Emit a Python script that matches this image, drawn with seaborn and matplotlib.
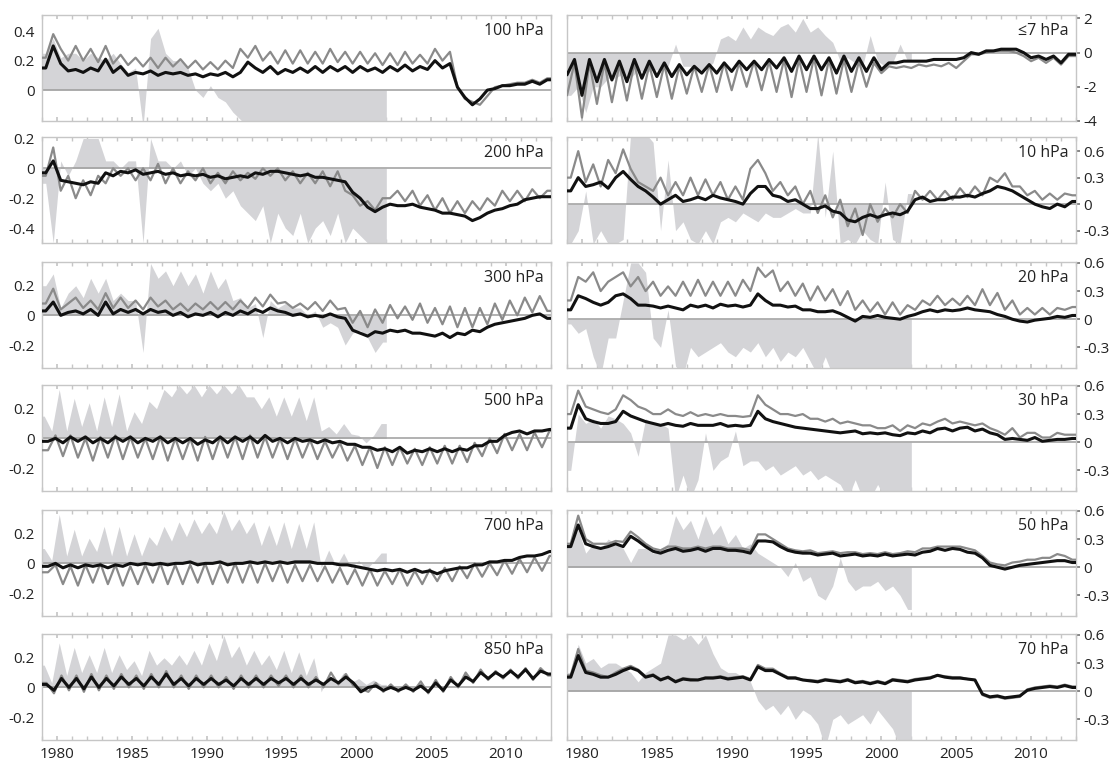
import numpy as np
import matplotlib
matplotlib.use("Agg")
import matplotlib.pyplot as plt
import seaborn as sns

# ---------------- data (values in hundredths, semi-annual samples 1979-2012) ----------------
p100_black = [15,30, 18,13, 14,12, 15,13, 21,12, 16,10, 12,11, 13,10, 12,11, 12,10,
              11,9, 11,10, 12,9, 12,19, 15,12, 16,11, 14,12, 15,12, 16,12, 16,13,
              16,12, 16,13, 15,12, 16,13, 17,13, 16,14, 20,15, 18,2, -5,-10, -6,0,
              1,3, 3,4, 4,6, 4,7]
p100_gray = [22,38, 28,20, 30,20, 28,19, 30,18, 24,17, 22,16, 22,15, 22,16, 21,15,
             20,14, 19,14, 20,15, 28,22, 30,20, 26,18, 27,18, 27,18, 26,18, 28,19,
             26,18, 26,18, 25,17, 25,17, 26,18, 24,18, 28,20, 26,2, -6,-8, -10,-4,
             2,3, 4,5, 5,7, 5,8]
p100_fill = [25,35, 22,25, 25,20, 25,22, 20,25, 18,12, 15,-25, 35,42, 25,20, 20,15,
             0,-5, 3,-5, -8,-15, -20,-25, -30,-25, -30,-30, -28,-30, -30,-26, -30,-30,
             -27,-30, -30,-30, -30,-28, -30,-30]

p200_black = [-3,5, -8,-9, -10,-11, -9,-10, -3,-5, -2,-3, -1,-4, -3,-2, -4,-3, -5,-4,
              -5,-4, -6,-5, -7,-6, -5,-6, -3,-4, -2,-2, -3,-4, -5,-4, -6,-6, -7,-8,
              -9,-16, -20,-26, -29,-26, -24,-25, -25,-24, -26,-27, -28,-30, -30,-31,
              -32,-35, -33,-30, -28,-27, -25,-24, -21,-20, -19,-19]
p200_gray = [-5,14, -15,-5, -20,-8, -18,-5, -10,0, -5,0, -8,0, -8,3, -10,0, -10,-2,
             -8,0, -10,-3, -10,-2, -8,-3, -7,0, -5,0, -8,-2, -10,-3, -10,-2, -12,-2,
             -15,-18, -25,-22, -28,-20, -20,-15, -22,-15, -25,-18, -28,-20, -30,-22,
             -30,-22, -28,-20, -25,-15, -22,-15, -22,-14, -20,-15]
p200_fill = [-10,-50, 5,-5, 5,20, 20,20, 5,5, 0,5, 5,-50, 20,5, 5,0, 5,-5,
             0,-10, -15,-10, -20,-15, -25,-30, -35,-25, -50,-30, -40,-45, -30,-50,
             -40,-35, -45,-30, -50,-40, -45,-50, -55,-55]

p300_black = [3,9, 0,2, 3,1, 4,0, 9,1, 4,2, 4,1, 4,2, 3,0, 2,-1, 1,0, 2,-1, 2,0, 3,1,
              4,2, 5,3, 2,0, 1,-1, 0,-1, 1,-1, -2,-10, -12,-14, -11,-12, -10,-11,
              -10,-12, -12,-13, -14,-12, -15,-12, -13,-10, -11,-8, -6,-5, -4,-3, -2,0, 1,-2]
p300_gray = [8,18, 4,8, 12,5, 10,4, 15,5, 12,5, 10,4, 12,6, 10,4, 8,3, 8,4, 9,4, 9,4,
             10,5, 12,6, 14,8, 9,5, 8,4, 9,3, 10,4, 5,-5, 3,-8, 4,-5, 7,-2, 6,-3, 8,-5,
             5,-6, 6,-8, 5,-8, 5,-6, 8,-3, 10,0, 12,2, 13,3]
p300_fill = [20,28, 5,15, 20,12, 25,15, 25,10, 15,10, 10,-25, 35,25, 30,20, 30,20,
             28,15, 30,18, 25,10, 12,5, 8,-15, 10,5, 8,5, 5,0, 3,-8, -5,-8, -20,-12,
             -10,-15, -25,-18]

p500_black = [-2,0, -3,1, -2,1, -3,0, -3,1, -2,1, -3,0, -2,1, -3,0, -3,0, -4,-1, -3,1,
              -3,1, -2,1, -3,2, -2,0, -3,0, -2,-1, -3,-1, -3,-2, -4,-4, -6,-6, -8,-7,
              -9,-6, -10,-8, -9,-7, -9,-7, -9,-7, -8,-5, -5,-2, -2,2, 4,5, 3,5, 5,6]
p500_gray = [-8,2, -12,2, -13,0, -15,1, -13,2, -14,1, -13,0, -14,1, -15,0, -14,0,
             -15,1, -14,1, -13,1, -14,2, -13,1, -13,0, -14,0, -13,-1, -14,-2, -13,-3,
             -15,-5, -18,-6, -20,-6, -18,-6, -17,-7, -18,-6, -17,-5, -17,-5, -16,-3,
             -12,0, -10,3, -8,3, -8,4, -6,5]
p500_fill = [15,5, 33,5, 27,8, 24,5, 28,8, 30,5, 18,10, 25,20, 33,28, 36,30, 36,28,
             36,30, 36,30, 36,28, 28,20, 28,15, 28,15, 28,12, 28,5, 8,3, 10,3, 2,-3, 2,10]

p700_black = [-2,0, -3,-1, -3,-1, -2,-1, -3,-1, -2,0, -1,0, -1,0, -1,0, 0,1, -1,0,
              0,1, -1,0, 0,1, 0,1, 0,1, 0,1, 1,1, 0,0, 0,-1, -1,-2, -3,-4, -5,-4,
              -5,-4, -6,-4, -6,-5, -7,-5, -4,-3, -3,-1, -1,1, 1,2, 2,4, 5,5, 6,8]
p700_gray = [-6,-1, -14,-2, -15,-1, -13,0, -14,-1, -15,-2, -14,-1, -13,0, -14,-1,
             -14,-1, -13,0, -14,-1, -13,0, -13,0, -13,0, -12,0, -13,-1, -12,-1, -12,-2,
             -13,-3, -14,-4, -15,-4, -15,-5, -14,-4, -15,-5, -14,-4, -12,-3, -12,-2,
             -10,0, -9,0, -8,2, -7,3, -6,4, -5,5]
p700_fill = [10,2, 33,5, 23,5, 17,8, 25,5, 25,5, 20,5, 18,12, 25,15, 28,18, 30,20,
             28,20, 35,22, 30,20, 28,12, 26,12, 28,10, 27,10, 28,-3, 9,-2, 7,-3, 2,-4, 1,7]

p850_black = [2,-2, 6,0, 6,-1, 7,0, 6,1, 7,2, 6,1, 7,2, 9,2, 6,1, 6,2, 6,2, 5,1, 6,2,
              6,2, 6,3, 6,2, 6,2, 5,2, 6,3, 7,3, -3,0, 1,-2, 0,-2, 0,-2, 1,-3, 3,-2,
              5,1, 7,4, 10,6, 10,7, 11,7, 12,6, 11,9]
p850_gray = [3,-4, 8,-2, 8,-3, 9,-2, 8,-1, 9,0, 8,-1, 9,0, 11,0, 8,-1, 8,0, 8,0, 7,-1,
             8,0, 8,0, 8,1, 8,0, 8,0, 7,0, 10,2, 9,1, -1,-3, 3,-3, 2,-3, 2,-3, 4,-4,
             5,-3, 7,0, 10,3, 12,5, 11,6, 12,6, 13,5, 13,8]
p850_fill = [15,3, 30,8, 27,10, 22,10, 27,10, 22,12, 18,8, 25,15, 20,15, 22,15, 25,15,
             30,18, 35,20, 28,15, 25,15, 22,12, 25,10, 24,8, 20,-3, 9,3, 10,3, 6,2, 5,2]

p7_black = [-130,-40, -250,-40, -170,-40, -160,-50, -170,-40, -150,-50, -140,-60,
            -140,-70, -130,-80, -120,-70, -120,-60, -110,-50, -100,-50, -100,-40,
            -90,-30, -110,-20, -100,-20, -100,-30, -120,-20, -110,-30, -110,-30,
            -100,-60, -60,-50, -50,-50, -50,-40, -40,-40, -40,-30, 0,-10, 10,10,
            20,20, 20,0, -30,-20, -40,-20, -60,-10]
p7_gray = [-250,-60, -380,-60, -300,-60, -290,-70, -280,-60, -270,-70, -260,-70,
           -270,-80, -240,-80, -230,-70, -230,-60, -220,-60, -200,-50, -220,-50,
           -230,-40, -260,-40, -230,-30, -250,-40, -240,-40, -230,-50, -200,-60,
           -120,-80, -90,-80, -90,-70, -80,-70, -80,-60, -90,-50, -10,-10, 0,10,
           10,10, 0,-20, -50,-30, -60,-30, -70,-20]
p7_fill = [-250,-200, -350,-200, -200,-150, -150,-120, -150,-100, -120,-100, -100,-80,
           50,-80, -80,-100, -100,-60, 80,100, 70,150, 80,150, 120,100, 150,170,
           120,200, 120,150, 100,60, -50,-30, -60,-80, 100,-50, -80,-60, 50,-50]

p10_black = [15,30, 20,22, 25,18, 30,37, 28,20, 15,8, 0,5, 10,3, 5,8, 5,10, 7,5, 3,0,
             12,20, 20,10, 8,3, 5,0, -5,-5, -2,-8, -10,-18, -20,-15, -12,-15, -12,-10,
             -12,-8, 5,8, 3,5, 5,8, 8,10, 8,12, 15,20, 18,15, 10,5, 0,-3, -5,0, -3,3]
p10_gray = [30,60, 25,45, 20,50, 35,62, 40,25, 20,15, 30,10, 25,10, 30,10, 28,10,
            25,5, 20,5, 40,50, 35,15, 25,10, 20,0, 15,-10, 10,-15, 5,-25, -5,-35,
            0,-20, -5,-15, 0,-10, 15,5, 15,5, 15,5, 18,8, 20,10, 30,25, 35,20, 20,10,
            15,5, 12,5, 12,10]
p10_fill = [-45,-30, 15,-45, -30,-45, -45,-40, 80,80, 80,70, -30,50, -30,-20, -40,-45,
            -30,-45, -20,-15, -20,-10, -15,-20, -10,-15, -15,-10, -5,-10, -10,80,
            -15,60, -45,-40, -45,-30, -40,-45, 25,-40, -45,12]

p20_black = [10,25, 22,18, 15,18, 25,27, 22,15, 15,14, 12,14, 12,10, 15,13, 15,12,
             16,14, 15,13, 15,27, 20,15, 15,13, 14,10, 10,8, 8,9, 6,2, -2,3, 2,4, 2,1,
             0,3, 5,8, 10,8, 10,9, 10,12, 10,9, 8,5, 3,0, -2,-3, -1,0, 1,3, 2,4]
p20_gray = [20,45, 40,50, 30,40, 45,50, 35,45, 30,40, 25,35, 25,40, 25,42, 25,40,
            25,40, 25,42, 30,55, 45,52, 30,40, 25,38, 20,35, 20,32, 15,30, 10,20,
            8,18, 5,18, 5,15, 10,20, 15,25, 15,22, 15,25, 15,32, 15,28, 10,20, 5,12,
            5,12, 5,12, 10,13]
p20_fill = [-5,-15, -10,-40, -60,-20, -20,20, 60,60, 50,-20, -30,10, -50,-60, -30,-40,
            -35,-30, -25,-35, -40,-30, -35,-25, -40,-30, -45,-35, -40,-30, -45,-60,
            -40,-60, -60,-60, -60,-60, -60,-60, -60,-60, -60,-60]

p30_black = [15,40, 25,22, 20,20, 22,33, 28,25, 22,20, 18,20, 18,17, 20,18, 18,18,
             20,17, 18,17, 18,33, 25,22, 20,18, 16,15, 14,13, 12,11, 10,11, 12,9,
             10,9, 10,8, 7,10, 9,12, 10,14, 15,12, 15,16, 12,14, 10,8, 3,4, 3,2, 5,1,
             2,3, 3,4]
p30_gray = [30,55, 38,35, 32,30, 35,50, 45,38, 35,30, 30,35, 30,28, 32,28, 30,28,
            30,28, 28,27, 28,50, 40,35, 30,30, 28,30, 25,25, 22,25, 20,22, 20,18,
            18,15, 15,18, 12,18, 15,20, 18,22, 25,20, 22,20, 18,20, 15,12, 8,15,
            5,10, 10,5, 5,10, 8,8]
p30_fill = [-30,30, 20,25, 15,28, 25,20, 10,-15, 25,20, 20,15, -60,-35, -60,-40,
            10,-30, -20,-15, 12,-25, -20,-20, -30,-25, -35,-30, -25,-35, -30,-40,
            -35,-40, -45,-60, -40,-60, -60,-45, -60,-60, -60,-60]

p50_black = [22,45, 25,22, 20,22, 25,22, 33,28, 22,17, 15,18, 20,17, 18,20, 17,20,
             20,18, 18,17, 15,28, 28,27, 22,18, 16,15, 15,13, 14,15, 12,13, 14,12,
             13,12, 14,12, 13,14, 13,16, 17,20, 18,20, 19,16, 15,10, 2,0, -2,0, 2,3,
             4,5, 6,7, 7,5]
p50_gray = [25,55, 30,25, 25,25, 28,27, 38,32, 25,20, 18,22, 22,20, 20,22, 20,22,
            22,20, 20,20, 18,35, 35,30, 25,20, 18,17, 18,15, 16,17, 15,16, 16,14,
            15,14, 16,14, 15,17, 16,20, 20,22, 22,22, 22,20, 18,12, 5,3, 2,5, 6,8,
            8,10, 10,14, 12,8]
p50_fill = [25,40, 15,25, 20,30, 25,20, 5,20, 20,15, 20,25, 55,40, 50,30, 55,35,
            45,25, 35,20, 25,15, 10,5, 0,-10, 5,-15, -10,-30, -35,-20, 10,-15,
            -25,-20, -20,-15, -25,-20, -30,-45]

p70_black = [15,38, 20,18, 15,15, 18,22, 25,22, 15,17, 12,15, 10,13, 12,12, 14,14,
             15,13, 14,15, 12,26, 22,22, 18,14, 14,12, 11,10, 12,11, 10,12, 9,10,
             8,10, 8,12, 11,10, 12,13, 14,17, 15,14, 14,13, 12,-3, -6,-5, -7,-6,
             -5,1, 3,4, 5,4, 6,4]
p70_gray = [17,45, 22,20, 17,15, 20,24, 27,23, 16,18, 13,14, 11,14, 13,12, 15,15,
            16,14, 15,16, 13,28, 24,24, 19,15, 15,12, 12,11, 13,12, 11,13, 10,11,
            9,11, 9,13, 12,11, 13,14, 15,17, 16,15, 15,13, 12,-4, -7,-6, -8,-7,
            -6,2, 4,5, 6,5, 7,5]
p70_fill = [20,50, 30,35, 25,30, 30,25, 20,10, 20,25, 30,60, 60,55, 60,50, 60,40,
            25,20, 20,15, 10,-10, -20,-15, -25,-15, -30,-20, -25,-35, -60,-30,
            -25,-35, -30,-25, -35,-20, -30,-40, -60,-60]

labels_left = ["100 hPa", "200 hPa", "300 hPa", "500 hPa", "700 hPa", "850 hPa"]
labels_right = ["\u22647 hPa", "10 hPa", "20 hPa", "30 hPa", "50 hPa", "70 hPa"]
year_ticks = [1980, 1985, 1990, 1995, 2000, 2005, 2010]

# ---------------- styling ----------------
sns.set_theme(style="white")
plt.rcParams["font.family"] = ["Open Sans", "DejaVu Sans"]

C_BLACK = "#111111"
C_GRAY = "#8a8a8a"
C_FILL = "#d4d4d7"
C_ZERO = "#9c9c9c"
C_SPINE = "#c6c6c6"

X0, X1 = 1979.0, 2013.0
FILL_END = 2002.0

panels = [
    # col, row, label, black, gray, fill, ylim, ticks, ticklabels, line offset, fill offset
    (0, 0, labels_left[0], p100_black, p100_gray, p100_fill, (-0.21, 0.51), [0.4, 0.2, 0], ["0.4", "0.2", "0"], 0.25, 0.25),
    (0, 1, labels_left[1], p200_black, p200_gray, p200_fill, (-0.50, 0.21), [0.2, 0, -0.2, -0.4], ["0.2", "0", "-0.2", "-0.4"], 0.25, 0.25),
    (0, 2, labels_left[2], p300_black, p300_gray, p300_fill, (-0.355, 0.36), [0.2, 0, -0.2], ["0.2", "0", "-0.2"], 0.25, 0.25),
    (0, 3, labels_left[3], p500_black, p500_gray, p500_fill, (-0.355, 0.36), [0.2, 0, -0.2], ["0.2", "0", "-0.2"], 0.4, 0.15),
    (0, 4, labels_left[4], p700_black, p700_gray, p700_fill, (-0.355, 0.36), [0.2, 0, -0.2], ["0.2", "0", "-0.2"], 0.4, 0.15),
    (0, 5, labels_left[5], p850_black, p850_gray, p850_fill, (-0.355, 0.36), [0.2, 0, -0.2], ["0.2", "0", "-0.2"], 0.3, 0.15),
    (1, 0, labels_right[0], p7_black, p7_gray, p7_fill, (-4.0, 2.2), [2, 0, -2, -4], ["2", "0", "-2", "-4"], 0.0, 0.25),
    (1, 1, labels_right[1], p10_black, p10_gray, p10_fill, (-0.44, 0.76), [0.6, 0.3, 0, -0.3], ["0.6", "0.3", "0", "-0.3"], 0.25, 0.25),
    (1, 2, labels_right[2], p20_black, p20_gray, p20_fill, (-0.52, 0.61), [0.6, 0.3, 0, -0.3], ["0.6", "0.3", "0", "-0.3"], 0.25, 0.25),
    (1, 3, labels_right[3], p30_black, p30_gray, p30_fill, (-0.52, 0.61), [0.6, 0.3, 0, -0.3], ["0.6", "0.3", "0", "-0.3"], 0.25, 0.25),
    (1, 4, labels_right[4], p50_black, p50_gray, p50_fill, (-0.52, 0.61), [0.6, 0.3, 0, -0.3], ["0.6", "0.3", "0", "-0.3"], 0.25, 0.25),
    (1, 5, labels_right[5], p70_black, p70_gray, p70_fill, (-0.52, 0.61), [0.6, 0.3, 0, -0.3], ["0.6", "0.3", "0", "-0.3"], 0.25, 0.25),
]

W, H = 1115, 761
fig = plt.figure(figsize=(W / 100, H / 100), dpi=100)
fig.patch.set_facecolor("white")
row_tops = [15, 137, 262, 385, 510, 634]
col_lefts = [42, 567]
AX_W, AX_H = 509, 106


def series_xy(vals, off, end=None):
    v = np.asarray(vals, dtype=float) / 100.0
    t = X0 + off + 0.5 * np.arange(len(v))
    x = np.concatenate([[X0], t, [end if end is not None else X1]])
    y = np.concatenate([[v[0]], v, [v[-1]]])
    return x, y


for col, row, label, blk, gry, fil, ylim, ticks, tlabels, off, foff in panels:
    ax = fig.add_axes([col_lefts[col] / W, 1 - (row_tops[row] + AX_H) / H, AX_W / W, AX_H / H])
    ax.set_facecolor("white")

    xf, yf = series_xy(fil, foff, FILL_END)
    ax.fill_between(xf, 0, yf, color=C_FILL, linewidth=0, zorder=1)
    ax.axhline(0, color=C_ZERO, lw=1.1, zorder=2)

    xg, yg = series_xy(gry, off)
    sns.lineplot(x=xg, y=yg, ax=ax, color=C_GRAY, linewidth=1.6, estimator=None, sort=False,
                 zorder=3, solid_joinstyle="round")
    xb, yb = series_xy(blk, off)
    sns.lineplot(x=xb, y=yb, ax=ax, color=C_BLACK, linewidth=2.2, estimator=None, sort=False,
                 zorder=4, solid_joinstyle="round")

    ax.set_xlim(X0, X1)
    ax.set_ylim(*ylim)
    ax.set_yticks(ticks)
    ax.set_yticklabels(tlabels)
    ax.set_xticks(year_ticks)
    ax.set_xticks(np.arange(1979, 2014), minor=True)
    ax.set_xlabel("")
    ax.set_ylabel("")
    if row < 5:
        ax.set_xticklabels([])
    else:
        ax.set_xticklabels([str(y) for y in year_ticks])

    for s in ax.spines.values():
        s.set_color(C_SPINE)
        s.set_linewidth(1.0)

    ax.tick_params(axis="x", which="both", direction="in", length=3, color=C_SPINE,
                   top=True, bottom=True, labelsize=11, pad=5, labelcolor="#222222")
    ax.tick_params(axis="y", direction="out", length=3, color="#777777", labelsize=11,
                   pad=2, labelcolor="#222222")
    if col == 1:
        ax.yaxis.tick_right()
        ax.tick_params(axis="y", direction="out", length=3, color="#777777", labelsize=11,
                       pad=2, labelcolor="#222222")

    ax.text(0.985, 0.85, label, transform=ax.transAxes, ha="right", va="center",
            fontsize=11.5, color="#222222", zorder=5)

fig.savefig("out.png", dpi=100, facecolor="white")
